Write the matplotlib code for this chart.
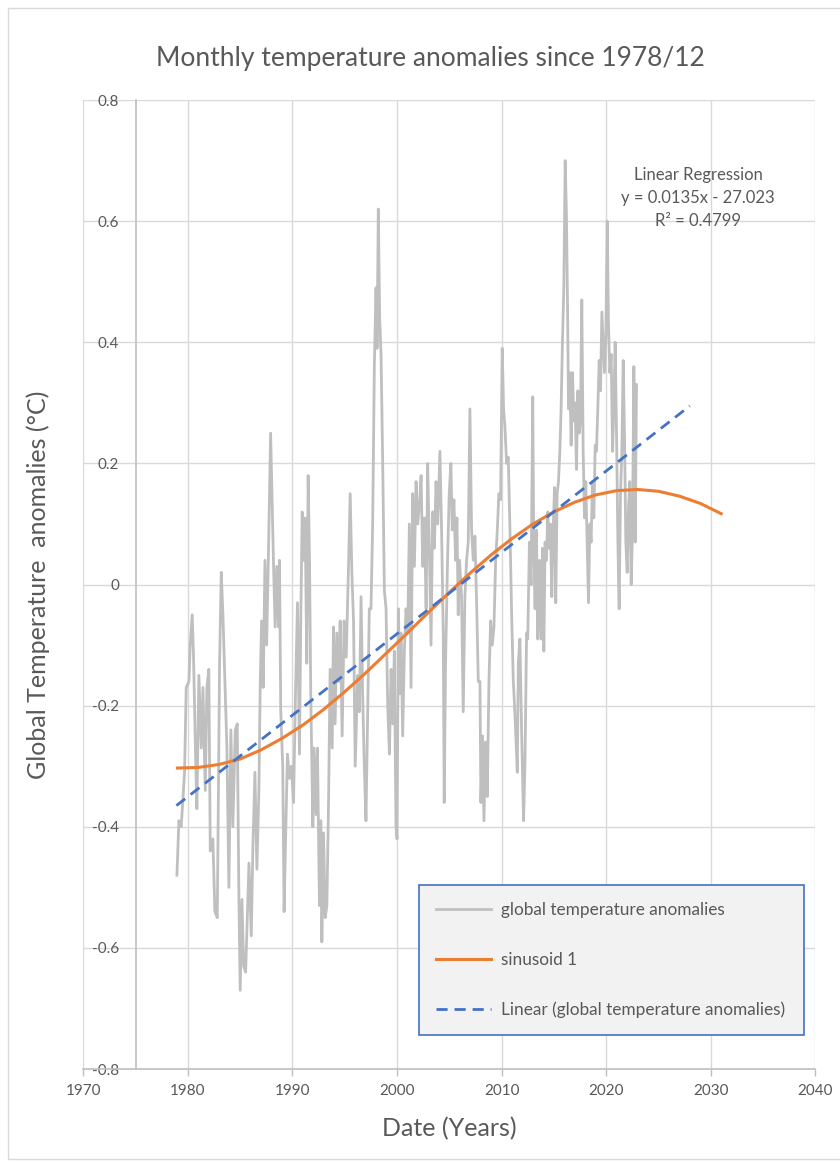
import matplotlib
matplotlib.use("Agg")
import matplotlib.pyplot as plt
from matplotlib.ticker import FuncFormatter
from matplotlib.patches import Rectangle

plt.rcParams['font.family'] = ['Lato', 'DejaVu Sans']
plt.rcParams['axes.unicode_minus'] = False

# monthly anomalies (decimal year, degC)
anom_years = [
    1978.95, 1979.14, 1979.36, 1979.68, 1979.84, 1980.10, 1980.22, 1980.41, 1980.54, 1980.73,
    1980.86, 1981.05, 1981.28, 1981.44, 1981.66, 1981.82, 1982.00, 1982.14, 1982.39, 1982.58,
    1982.81, 1983.03, 1983.19, 1983.35, 1983.54, 1983.73, 1983.92, 1984.11, 1984.30, 1984.53,
    1984.72, 1984.88, 1985.00, 1985.17, 1985.33, 1985.52, 1985.68, 1985.84, 1986.06, 1986.22,
    1986.41, 1986.60, 1986.79, 1986.92, 1987.05, 1987.20, 1987.37, 1987.53, 1987.69, 1987.91,
    1988.18, 1988.34, 1988.50, 1988.66, 1988.76, 1988.88, 1989.07, 1989.20, 1989.33, 1989.52,
    1989.71, 1989.90, 1990.10, 1990.29, 1990.48, 1990.67, 1990.80, 1990.93, 1991.05, 1991.21,
    1991.37, 1991.50, 1991.63, 1991.75, 1991.95, 1992.07, 1992.26, 1992.39, 1992.58, 1992.71,
    1992.81, 1992.97, 1993.13, 1993.29, 1993.45, 1993.60, 1993.80, 1993.92, 1994.08, 1994.24,
    1994.43, 1994.56, 1994.75, 1994.94, 1995.14, 1995.36, 1995.52, 1995.68, 1995.84, 1996.00,
    1996.24, 1996.40, 1996.56, 1996.71, 1996.87, 1997.03, 1997.19, 1997.35, 1997.51, 1997.67,
    1997.83, 1997.99, 1998.09, 1998.21, 1998.34, 1998.47, 1998.63, 1998.79, 1998.95, 1999.11,
    1999.27, 1999.43, 1999.59, 1999.74, 1999.90, 2000.00, 2000.13, 2000.29, 2000.38, 2000.54,
    2000.70, 2000.86, 2001.02, 2001.18, 2001.34, 2001.50, 2001.66, 2001.82, 2001.98, 2002.17,
    2002.30, 2002.46, 2002.62, 2002.78, 2002.93, 2003.09, 2003.25, 2003.41, 2003.57, 2003.73,
    2003.89, 2004.10, 2004.26, 2004.42, 2004.51, 2004.64, 2004.83, 2004.99, 2005.15, 2005.28,
    2005.44, 2005.60, 2005.73, 2005.85, 2005.98, 2006.17, 2006.33, 2006.49, 2006.65, 2006.81,
    2006.97, 2007.13, 2007.29, 2007.45, 2007.61, 2007.77, 2007.93, 2008.02, 2008.18, 2008.31,
    2008.47, 2008.63, 2008.79, 2008.95, 2009.11, 2009.27, 2009.43, 2009.59, 2009.74, 2009.90,
    2010.06, 2010.19, 2010.32, 2010.48, 2010.64, 2010.80, 2010.96, 2011.12, 2011.21, 2011.34,
    2011.50, 2011.60, 2011.75, 2011.91, 2012.10, 2012.23, 2012.39, 2012.50, 2012.66, 2012.82,
    2012.98, 2013.07, 2013.20, 2013.33, 2013.46, 2013.62, 2013.78, 2013.91, 2014.04, 2014.16,
    2014.29, 2014.42, 2014.55, 2014.67, 2014.80, 2014.93, 2015.06, 2015.18, 2015.31, 2015.44,
    2015.57, 2015.69, 2015.82, 2015.95, 2016.08, 2016.20, 2016.30, 2016.40, 2016.52, 2016.65,
    2016.78, 2016.91, 2017.03, 2017.16, 2017.29, 2017.42, 2017.54, 2017.67, 2017.80, 2017.93,
    2018.05, 2018.18, 2018.31, 2018.44, 2018.56, 2018.69, 2018.82, 2018.95, 2019.07, 2019.20,
    2019.33, 2019.46, 2019.59, 2019.71, 2019.84, 2019.97, 2020.10, 2020.22, 2020.35, 2020.48,
    2020.61, 2020.73, 2020.86, 2020.99, 2021.12, 2021.24, 2021.37, 2021.50, 2021.63, 2021.75,
    2021.88, 2022.01, 2022.14, 2022.26, 2022.39, 2022.52, 2022.65, 2022.78, 2022.90,
]
anom_values = [
    -0.48, -0.39, -0.40, -0.31, -0.17, -0.16, -0.10, -0.05, -0.12, -0.28,
    -0.37, -0.15, -0.27, -0.17, -0.34, -0.17, -0.14, -0.44, -0.42, -0.54,
    -0.55, -0.13, 0.02, -0.05, -0.16, -0.27, -0.50, -0.24, -0.40, -0.24,
    -0.23, -0.52, -0.67, -0.52, -0.63, -0.64, -0.55, -0.46, -0.58, -0.43,
    -0.31, -0.47, -0.34, -0.16, -0.06, -0.17, 0.04, -0.10, 0.04, 0.25,
    0.04, -0.07, 0.03, -0.07, 0.04, -0.21, -0.30, -0.54, -0.43, -0.28,
    -0.32, -0.30, -0.36, -0.18, -0.03, -0.28, -0.05, 0.12, 0.04, 0.11,
    -0.13, 0.18, 0.04, -0.18, -0.40, -0.27, -0.38, -0.27, -0.53, -0.39,
    -0.59, -0.41, -0.55, -0.53, -0.36, -0.14, -0.27, -0.07, -0.23, -0.08,
    -0.16, -0.06, -0.25, -0.06, -0.12, 0.03, 0.15, 0.02, -0.06, -0.30,
    -0.15, -0.21, -0.02, -0.18, -0.30, -0.39, -0.22, -0.04, -0.04, 0.10,
    0.36, 0.49, 0.39, 0.62, 0.44, 0.38, 0.20, -0.01, -0.04, -0.20,
    -0.28, -0.14, -0.23, -0.11, -0.40, -0.42, -0.04, -0.18, -0.08, -0.25,
    -0.11, -0.04, -0.08, 0.10, -0.17, 0.15, 0.03, 0.17, 0.10, 0.14,
    0.18, 0.03, 0.11, -0.04, 0.20, 0.06, -0.10, 0.12, 0.06, 0.17,
    0.10, 0.22, 0.09, -0.08, -0.36, -0.13, 0.04, 0.15, 0.20, 0.09,
    0.14, 0.04, 0.11, -0.05, 0.04, -0.02, -0.21, -0.02, 0.04, 0.07,
    0.29, 0.09, 0.04, 0.08, -0.03, -0.16, -0.16, -0.36, -0.25, -0.39,
    -0.26, -0.35, -0.16, -0.06, -0.10, -0.07, 0.04, 0.09, 0.15, 0.14,
    0.39, 0.29, 0.26, 0.20, 0.21, 0.09, -0.05, -0.16, -0.19, -0.24,
    -0.31, -0.13, -0.09, -0.24, -0.39, -0.30, -0.08, -0.09, 0.07, 0.00,
    0.31, 0.07, -0.04, 0.09, -0.09, 0.04, -0.09, 0.06, -0.11, 0.07,
    0.04, 0.12, 0.06, 0.10, -0.02, 0.09, 0.16, -0.03, 0.15, 0.17,
    0.22, 0.29, 0.40, 0.49, 0.70, 0.61, 0.47, 0.29, 0.35, 0.23,
    0.35, 0.27, 0.30, 0.19, 0.32, 0.25, 0.27, 0.47, 0.22, 0.11,
    0.17, 0.07, -0.03, 0.10, 0.07, 0.17, 0.11, 0.23, 0.22, 0.29,
    0.37, 0.32, 0.45, 0.40, 0.35, 0.41, 0.60, 0.43, 0.35, 0.38,
    0.22, 0.29, 0.40, 0.25, 0.07, -0.04, 0.15, 0.22, 0.37, 0.25,
    0.07, 0.02, 0.13, 0.17, 0.00, 0.09, 0.36, 0.07, 0.33,
]

# fitted sinusoid, read every 2 years
sin_years = [1979, 1981, 1983, 1985, 1987, 1989, 1991, 1993, 1995, 1997, 1999, 2001, 2003, 2005,
             2007, 2009, 2011, 2013, 2015, 2017, 2019, 2021, 2023, 2025, 2027, 2029, 2031]
sin_values = [-0.303, -0.302, -0.297, -0.288, -0.273, -0.254, -0.232, -0.206, -0.177, -0.146,
              -0.113, -0.080, -0.046, -0.013, 0.019, 0.049, 0.076, 0.100, 0.120, 0.136,
              0.148, 0.155, 0.157, 0.154, 0.146, 0.134, 0.117]

# linear trend end points as drawn
trend_years = [1978.9, 2028.0]
trend_values = [-0.365, 0.295]

x_ticks = [1970, 1980, 1990, 2000, 2010, 2020, 2030, 2040]
y_ticks = [-0.8, -0.6, -0.4, -0.2, 0, 0.2, 0.4, 0.6, 0.8]

txt = '#595959'
grid = '#D9D9D9'

fig = plt.figure(figsize=(8.4, 11.62), dpi=100)
ax = fig.add_axes([0.0992, 0.0800, 0.8714, 0.8339])

ax.plot(anom_years, anom_values, color='#BFBFBF', lw=2.0, label='global temperature anomalies', zorder=3)
ax.plot(sin_years, sin_values, color='#ED7D31', lw=2.2, label='sinusoid 1', zorder=4)
ax.plot(trend_years, trend_values, color='#4472C4', lw=2.0, ls=(0, (4, 2.5)),
        label='Linear (global temperature anomalies)', zorder=5)

ax.set_xlim(1970, 2040)
ax.set_ylim(-0.8, 0.8)
ax.set_xticks(x_ticks)
ax.set_yticks(y_ticks)
ax.yaxis.set_major_formatter(FuncFormatter(lambda v, p: f"{v:g}"))
ax.grid(True, color=grid, lw=1.0, zorder=0)
ax.set_axisbelow(True)

for s in ['top', 'right']:
    ax.spines[s].set_visible(False)
ax.spines['left'].set_position(('data', 1975))
ax.spines['left'].set_color('#BFBFBF')
ax.spines['left'].set_linewidth(1.2)
ax.spines['bottom'].set_color('#BFBFBF')
ax.spines['bottom'].set_linewidth(1.2)
ax.tick_params(axis='y', length=0, pad=12, labelsize=11, labelcolor=txt)
ax.tick_params(axis='x', length=5, width=1, color='#BFBFBF', pad=6, labelsize=11, labelcolor=txt)

ax.text(0.840, 0.899, 'Linear Regression\ny = 0.0135x - 27.023\nR² = 0.4799',
        transform=ax.transAxes, ha='center', va='center', fontsize=12, color=txt, linespacing=1.55)

leg = ax.legend(loc='upper left', bbox_to_anchor=(0.458, 0.038, 0.526, 0.152), mode='expand',
                fontsize=12.4, labelcolor=txt, handlelength=3.2, handletextpad=0.6,
                labelspacing=1.95, borderpad=1.0, borderaxespad=0, fancybox=False, framealpha=1)
leg.get_frame().set_facecolor('#F2F2F2')
leg.get_frame().set_edgecolor('#4472C4')
leg.get_frame().set_linewidth(1.2)

fig.text(0.512, 0.950, 'Monthly temperature anomalies since 1978/12', ha='center', va='center',
         fontsize=19, color=txt)
fig.text(0.535, 0.029, 'Date (Years)', ha='center', va='center', fontsize=18, color=txt)
fig.text(0.045, 0.497, 'Global Temperature  anomalies (°C)', ha='center', va='center',
         rotation=90, fontsize=18, color=txt)

fig.patches.append(Rectangle((0.009, 0.003), 1.2, 0.99, transform=fig.transFigure,
                             fill=False, edgecolor='#D9D9D9', lw=1.0))

fig.savefig('out.png', dpi=100)
